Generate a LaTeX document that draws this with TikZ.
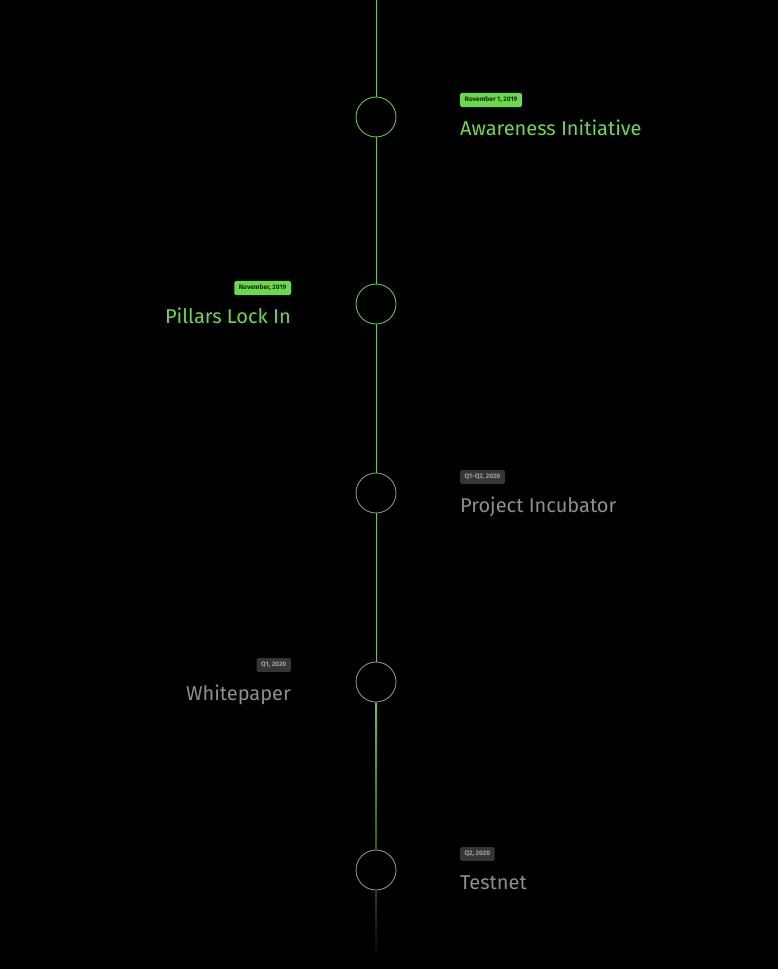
\documentclass[tikz,border=0pt]{standalone}
\usepackage{fontspec}
\setmainfont{Fira Sans}
\usepackage{tikz}
\usetikzlibrary{calc,positioning}
\definecolor{zgreen}{HTML}{6BDA49}
\definecolor{zline}{HTML}{62C944}
\definecolor{zgrey}{HTML}{8E8E8E}
\definecolor{zbadge}{HTML}{363636}
\definecolor{zbadgetext}{HTML}{A0A0A0}
\definecolor{zdark}{HTML}{163010}
\tikzset{
    stop/.style={circle, draw=zline, fill=black, minimum size=40pt, inner sep=0pt, line width=0.9pt},
    stopoff/.style={stop, draw=zgrey},
    link/.style={draw=zline, line width=0.9pt},
    badge/.style={fill=zgreen, text=zdark, rounded corners=1.5pt, inner xsep=4.5pt, inner ysep=4pt,
        font=\fontsize{6.6}{7}\selectfont\bfseries},
    badgeoff/.style={badge, fill=zbadge, text=zbadgetext},
    title/.style={text=zgreen, inner sep=0pt, font=\fontsize{20}{23}\selectfont},
    titleoff/.style={title, text=zgrey}
}
\begin{document}
\begin{tikzpicture}[x=1pt, y=-1pt]
    \fill[black] (0,0) rectangle (778,969);
    \useasboundingbox (0,0) rectangle (778,969);

    % Nodes
    \coordinate (top) at (376,0);
    \node[stop] (c1) at (376,117) {};
    \node[stop] (c2) at (376,304) {};
    \node[stopoff] (c3) at (376,493) {};
    \node[stopoff] (c4) at (376,682) {};
    \node[stopoff] (c5) at (376,870) {};
    \coordinate (end) at (376,962);

    % edges
    \draw[link] (top) -- (c1);
    \draw[link] (c1) -- (c2);
    \draw[link] (c2) -- (c3);
    \draw[link] (c3) -- (c4);
    \shade[top color=zline, bottom color=zline!45!black]
        ($(c4.south)+(-0.45,0)$) rectangle ($(c5.north)+(0.45,0)$);
    \shade[top color=zline!35!black, bottom color=black]
        ($(c5.south)+(-0.45,0)$) rectangle ($(end)+(0.45,0)$);

    % labels
    \node[badge, anchor=west] (b1) at (460,100) {November 1, 2019};
    \node[title, anchor=base west] (t1) at (460,135) {Awareness Initiative};
    \node[badge, anchor=east] (b2) at (291,288) {November, 2019};
    \node[title, anchor=base east] (t2) at (291,323) {Pillars Lock In};
    \node[badgeoff, anchor=west] (b3) at (460,477) {Q1-Q2, 2020};
    \node[titleoff, anchor=base west] (t3) at (460,512) {Project Incubator};
    \node[badgeoff, anchor=east] (b4) at (291,665) {Q1, 2020};
    \node[titleoff, anchor=base east] (t4) at (291,700) {Whitepaper};
    \node[badgeoff, anchor=west] (b5) at (460,854) {Q2, 2020};
    \node[titleoff, anchor=base west] (t5) at (460,889) {Testnet};
\end{tikzpicture}
\end{document}
